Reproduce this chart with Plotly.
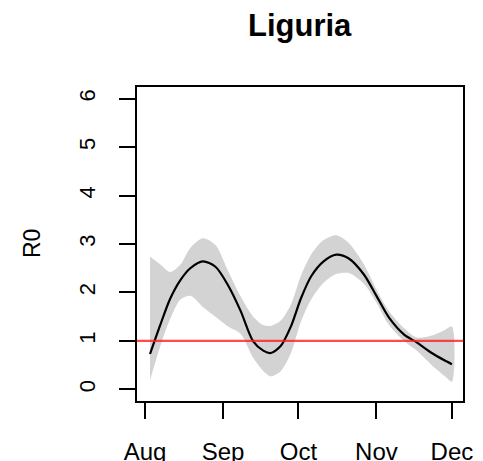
import plotly.graph_objects as go

# Estimated reproduction number for Liguria with its confidence band
dates = [
    "2020-08-03", "2020-08-07", "2020-08-11", "2020-08-15", "2020-08-19",
    "2020-08-24", "2020-08-29", "2020-09-03", "2020-09-08", "2020-09-13",
    "2020-09-17", "2020-09-20", "2020-09-24", "2020-09-28", "2020-10-02",
    "2020-10-06", "2020-10-11", "2020-10-16", "2020-10-21", "2020-10-27",
    "2020-11-01", "2020-11-06", "2020-11-12", "2020-11-17", "2020-11-23",
    "2020-11-28", "2020-12-01",
]
r0_mid = [
    0.73, 1.32, 1.87, 2.25, 2.50, 2.64, 2.53, 2.15, 1.62, 0.99,
    0.80, 0.75, 0.90, 1.30, 1.88, 2.33, 2.64, 2.78, 2.70, 2.37,
    1.93, 1.48, 1.13, 0.97, 0.75, 0.60, 0.52,
]
r0_upper = [
    2.74, 2.58, 2.42, 2.57, 2.92, 3.12, 2.98, 2.45, 1.92, 1.50,
    1.33, 1.31, 1.42, 1.75, 2.35, 2.78, 3.08, 3.18, 3.02, 2.58,
    2.06, 1.61, 1.26, 1.07, 1.11, 1.22, 1.30,
]
r0_lower = [
    0.19, 0.88, 1.45, 1.85, 1.93, 1.70, 1.50, 1.30, 1.15, 0.65,
    0.38, 0.27, 0.38, 0.75, 1.40, 1.85, 2.20, 2.38, 2.40, 2.18,
    1.79, 1.33, 1.00, 0.80, 0.50, 0.28, 0.16,
]
threshold = 1

month_ticks = ["2020-08-01", "2020-09-01", "2020-10-01", "2020-11-01", "2020-12-01"]
month_labels = ["Aug", "Sep", "Oct", "Nov", "Dec"]
y_ticks = [0, 1, 2, 3, 4, 5, 6]

FONT = "Liberation Sans, Arial, Helvetica, sans-serif"

fig = go.Figure()

# confidence band as a closed polygon
fig.add_trace(go.Scatter(
    x=dates + dates[::-1],
    y=r0_upper + r0_lower[::-1],
    fill="toself",
    fillcolor="#d3d3d3",
    line=dict(width=0, shape="spline", smoothing=0.8),
    mode="lines",
    hoverinfo="skip",
    showlegend=False,
))

# central estimate
fig.add_trace(go.Scatter(
    x=dates, y=r0_mid,
    mode="lines",
    line=dict(color="black", width=2.2, shape="spline", smoothing=0.8),
    showlegend=False,
))

# reference line at R0 = 1
fig.add_shape(
    type="line", xref="paper", x0=0, x1=1, yref="y", y0=threshold, y1=threshold,
    line=dict(color="rgba(255,30,30,0.8)", width=2.2),
    layer="above",
)

fig.update_layout(
    width=483, height=461,
    margin=dict(l=137, r=20, t=87, b=60),
    paper_bgcolor="white", plot_bgcolor="white",
    font=dict(family=FONT, size=22, color="black"),
    showlegend=False,
    annotations=[
        dict(text="<b>Liguria</b>", xref="paper", yref="paper",
             x=0.5, y=(401 - 26) / 314, xanchor="center", yanchor="middle",
             showarrow=False, font=dict(size=31, family=FONT, color="black")),
        dict(text="R0", xref="paper", yref="paper",
             x=(32 - 137) / 326, y=0.5, xanchor="center", yanchor="middle",
             textangle=-90, showarrow=False,
             font=dict(size=23, family=FONT, color="black")),
    ],
)

fig.update_xaxes(
    type="date",
    range=["2020-07-28 19:40", "2020-12-05 09:36"],
    tickvals=month_ticks, ticktext=month_labels,
    ticks="outside", ticklen=16, tickwidth=1.5, tickcolor="black",
    ticklabelstandoff=12,
    tickfont=dict(size=24),
    showline=True, mirror=True, linecolor="black", linewidth=1.5,
    showgrid=False, zeroline=False, automargin=False,
)
fig.update_yaxes(
    range=[-0.24, 6.24],
    tickvals=y_ticks, ticktext=[str(v) for v in y_ticks],
    tickangle=-90,
    ticks="outside", ticklen=16, tickwidth=1.5, tickcolor="black",
    ticklabelstandoff=15,
    tickfont=dict(size=22),
    showline=True, mirror=True, linecolor="black", linewidth=1.5,
    showgrid=False, zeroline=False, automargin=False,
)

fig.write_html("out.html")
